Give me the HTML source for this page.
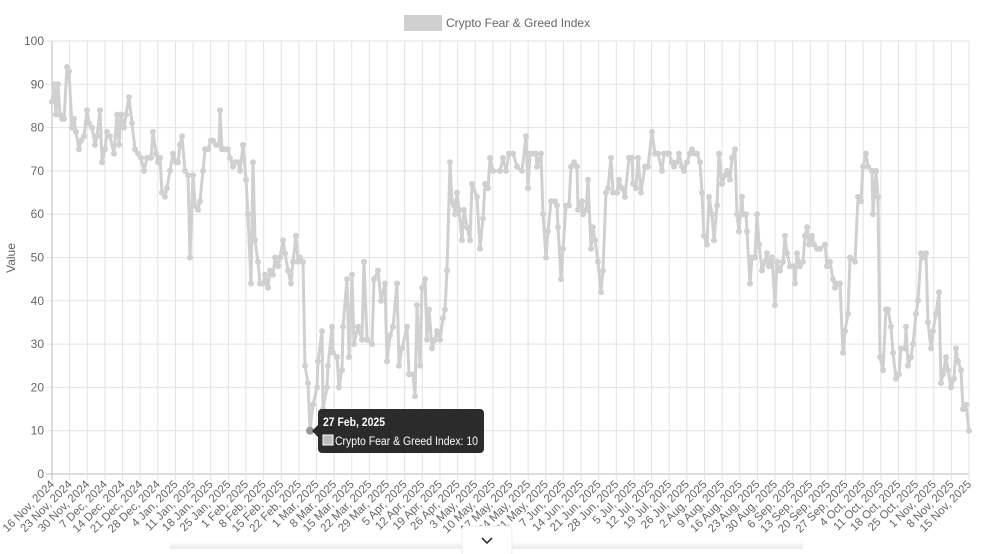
<!DOCTYPE html>
<html><head><meta charset="utf-8"><style>
html,body{margin:0;padding:0;background:#fff;width:984px;height:554px;overflow:hidden}
svg{display:block;font-family:"Liberation Sans",Arial,sans-serif}
</style></head><body>
<svg id="c" width="984" height="554" xmlns="http://www.w3.org/2000/svg"></svg>
<script>
var pts=[[52,86],[54,90],[56,83],[58,90],[60,83],[62,82],[64,82],[67,94],[69,93],[72,80],[74,82],[76,79],[79,75],[81,77],[84,78],[87,84],[89,81],[92,80],[95,76],[97,78],[100,84],[102,72],[105,75],[107,79],[110,78],[114,74],[117,83],[119,76],[121,83],[124,80],[126,83],[129,87],[132,81],[135,75],[138,74],[141,73],[144,70],[147,73],[151,73],[153,79],[156,74],[158,72],[160,73],[162,65],[165,64],[167,66],[170,70],[173,74],[176,72],[178,72],[180,76],[182,78],[185,70],[188,69],[190,50],[193,69],[195,62],[198,61],[200,63],[203,70],[205,75],[208,75],[211,77],[213,77],[216,76],[219,76],[220,84],[222,75],[225,75],[228,75],[230,73],[233,71],[235,72],[238,72],[240,70],[243,76],[246,68],[248,60],[251,44],[253,72],[255,54],[258,49],[260,44],[263,44],[265,46],[268,43],[270,47],[273,46],[275,50],[278,48],[280,50],[283,54],[285,51],[288,47],[291,44],[293,49],[296,55],[298,49],[300,50],[303,49],[305,25],[308,21],[310,10],[313,16],[317,20],[318,26],[322,33],[323,15],[327,20],[328,25],[332,34],[333,28],[337,27],[339,20],[342,24],[343,34],[347,45],[349,27],[352,46],[354,30],[358,34],[362,31],[364,49],[367,31],[372,30],[374,45],[378,47],[381,40],[385,44],[387,26],[390,32],[393,34],[397,44],[399,25],[402,29],[407,34],[409,23],[413,23],[415,18],[417,39],[420,25],[422,43],[425,45],[427,31],[429,38],[432,29],[435,31],[437,33],[440,31],[443,36],[445,38],[447,47],[450,72],[452,63],[454,62],[455,60],[457,65],[459,61],[462,54],[464,61],[467,57],[470,54],[472,67],[477,64],[480,52],[483,59],[485,67],[488,66],[490,73],[493,70],[500,70],[503,73],[506,70],[509,74],[513,74],[517,71],[522,70],[526,78],[528,66],[530,74],[533,74],[536,74],[537,71],[541,74],[543,60],[546,50],[548,56],[551,63],[555,63],[557,62],[558,57],[561,45],[563,52],[566,62],[569,62],[571,71],[574,72],[577,71],[578,61],[582,63],[583,60],[586,61],[588,68],[591,52],[593,57],[595,54],[598,49],[601,42],[603,47],[606,65],[608,66],[611,73],[613,65],[617,65],[619,68],[622,66],[625,64],[629,73],[632,73],[633,67],[636,66],[638,73],[641,65],[645,71],[648,71],[652,79],[655,74],[658,74],[662,70],[664,74],[667,74],[669,74],[672,72],[674,71],[677,72],[679,74],[682,71],[684,70],[687,72],[690,74],[692,75],[695,74],[697,74],[700,72],[702,65],[704,55],[707,53],[709,64],[712,60],[714,54],[717,62],[719,74],[722,67],[725,69],[727,70],[730,68],[732,73],[735,75],[737,60],[739,56],[742,64],[743,60],[746,60],[747,56],[750,44],[752,50],[755,50],[757,60],[759,53],[762,47],[765,49],[767,51],[769,48],[772,50],[775,39],[777,49],[780,47],[783,49],[785,55],[787,51],[790,48],[794,48],[795,44],[797,51],[800,48],[803,49],[805,55],[807,57],[809,53],[812,55],[814,53],[817,52],[820,52],[825,53],[827,48],[830,49],[833,45],[835,43],[837,44],[840,44],[843,28],[845,33],[848,37],[850,50],[855,49],[858,64],[861,63],[863,71],[866,74],[868,71],[872,70],[873,60],[876,70],[878,64],[880,27],[883,24],[886,38],[888,38],[891,34],[893,28],[896,22],[899,23],[901,29],[905,29],[906,34],[908,25],[911,27],[913,30],[916,37],[918,40],[921,51],[923,50],[926,51],[928,35],[931,29],[933,33],[936,37],[939,42],[941,21],[943,23],[946,27],[948,24],[951,20],[954,22],[956,29],[958,26],[961,24],[963,15],[966,16],[969,10]];
var s='';
var L=52,R=969,T=41,B=474;
function Y(v){return B-v*(B-T)/100;}
for(var i=0;i<=10;i++){var y=Y(i*10);s+='<line x1="'+(L-6)+'" x2="'+R+'" y1="'+y+'" y2="'+y+'" stroke="'+(i==0?'#bbb':'#e3e3e3')+'" stroke-width="1"/>';
s+='<text x="44" y="'+(y+4)+'" font-size="12" fill="#666" text-anchor="end">'+(i*10)+'</text>';}
var labels=["16 Nov, 2024","23 Nov, 2024","30 Nov, 2024","7 Dec, 2024","14 Dec, 2024","21 Dec, 2024","28 Dec, 2024","4 Jan, 2025","11 Jan, 2025","18 Jan, 2025","25 Jan, 2025","1 Feb, 2025","8 Feb, 2025","15 Feb, 2025","22 Feb, 2025","1 Mar, 2025","8 Mar, 2025","15 Mar, 2025","22 Mar, 2025","29 Mar, 2025","5 Apr, 2025","12 Apr, 2025","19 Apr, 2025","26 Apr, 2025","3 May, 2025","10 May, 2025","17 May, 2025","24 May, 2025","31 May, 2025","7 Jun, 2025","14 Jun, 2025","21 Jun, 2025","28 Jun, 2025","5 Jul, 2025","12 Jul, 2025","19 Jul, 2025","26 Jul, 2025","2 Aug, 2025","9 Aug, 2025","16 Aug, 2025","23 Aug, 2025","30 Aug, 2025","6 Sep, 2025","13 Sep, 2025","20 Sep, 2025","27 Sep, 2025","4 Oct, 2025","11 Oct, 2025","18 Oct, 2025","25 Oct, 2025","1 Nov, 2025","8 Nov, 2025","15 Nov, 2025"];
var step=(R-L)/52;
for(var k=0;k<53;k++){var x=L+k*step;
s+='<line x1="'+x+'" x2="'+x+'" y1="'+T+'" y2="'+(B+6)+'" stroke="'+(k==0?'#bbb':'#e3e3e3')+'" stroke-width="1"/>';
s+='<text font-size="11.5" fill="#666" text-anchor="end" transform="translate('+(x+3)+','+(B+11)+') rotate(-45)">'+labels[k]+'</text>';}
s+='<line x1="'+R+'" x2="'+R+'" y1="'+T+'" y2="'+B+'" stroke="#e3e3e3"/>';
var d='';pts.forEach(function(p,i){d+=(i?'L':'M')+p[0]+','+Y(p[1]).toFixed(1);});
s+='<path d="'+d+'" fill="none" stroke="#d0d0d0" stroke-width="3" stroke-linejoin="round"/>';
pts.forEach(function(p){s+='<circle cx="'+p[0]+'" cy="'+Y(p[1]).toFixed(1)+'" r="3" fill="#d0d0d0"/>';});
s+='<circle cx="310" cy="'+Y(10)+'" r="4" fill="#999"/>';
s+='<rect x="404" y="15" width="38" height="16" fill="#cfcfcf"/>';
s+='<text x="446" y="27" font-size="12" fill="#666">Crypto Fear &amp; Greed Index</text>';
s+='<text font-size="12" fill="#666" text-anchor="middle" transform="translate(15,258) rotate(-90)">Value</text>';
s+='<path d="M318,425 L312,431 L318,437 Z" fill="#2b2b2b"/>';
s+='<rect x="318" y="409" width="166" height="44" rx="4" fill="#2b2b2b"/>';
s+='<text x="323" y="426" font-size="12" font-weight="bold" fill="#fff" textLength="62" lengthAdjust="spacingAndGlyphs">27 Feb, 2025</text>';
s+='<rect x="323" y="435" width="10" height="10" fill="#bbb" stroke="#fff" stroke-width="1"/>';
s+='<text x="335" y="445" font-size="11.5" fill="#fff" textLength="143" lengthAdjust="spacingAndGlyphs">Crypto Fear &amp; Greed Index: 10</text>';
s+='<defs><linearGradient id="sh" x1="0" y1="0" x2="0" y2="1"><stop offset="0" stop-color="#000" stop-opacity="0"/><stop offset="1" stop-color="#000" stop-opacity="0.08"/></linearGradient></defs>';
s+='<rect x="170" y="541" width="633" height="8" fill="url(#sh)"/>';
s+='<rect x="170" y="549" width="633" height="5" fill="#fff"/>';
s+='<rect x="462" y="526" width="50" height="30" rx="4" fill="#fff" stroke="#eee"/>';
s+='<path d="M482,538 L487,543 L492,538" fill="none" stroke="#333" stroke-width="1.6"/>';
document.getElementById('c').innerHTML=s;
</script>
</body></html>
